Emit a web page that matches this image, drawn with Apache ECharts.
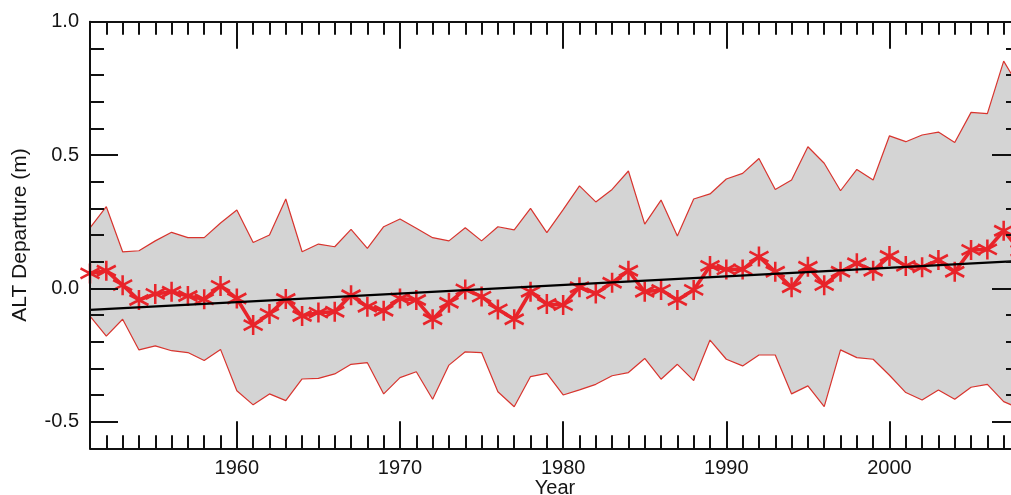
<!DOCTYPE html>
<html>
<head>
<meta charset="utf-8">
<script src="https://cdn.jsdelivr.net/npm/echarts@6/dist/echarts.min.js"></script>
<style>
html,body{margin:0;padding:0;background:#fff;}
#chart{width:1011px;height:495px;}
</style>
</head>
<body>
<div id="chart"></div>
<script>
const years = [];
for (let y = 1951; y <= 2008; y++) years.push(y);

const upperBand = [0.227,0.306,0.137,0.141,0.178,0.21,0.19,0.19,0.245,0.294,
  0.172,0.2,0.335,0.137,0.166,0.156,0.221,0.15,0.231,0.26,
  0.225,0.19,0.178,0.227,0.178,0.231,0.219,0.3,0.209,0.295,
  0.384,0.324,0.371,0.44,0.241,0.331,0.196,0.335,0.354,0.41,
  0.431,0.487,0.371,0.406,0.531,0.469,0.366,0.446,0.406,0.572,
  0.55,0.575,0.586,0.547,0.66,0.655,0.852,0.75];

const lowerBand = [-0.104,-0.179,-0.116,-0.231,-0.216,-0.234,-0.241,-0.271,-0.229,-0.384,
  -0.437,-0.396,-0.421,-0.34,-0.338,-0.321,-0.285,-0.279,-0.396,-0.335,
  -0.313,-0.416,-0.288,-0.238,-0.241,-0.388,-0.444,-0.331,-0.319,-0.4,
  -0.381,-0.36,-0.328,-0.316,-0.263,-0.341,-0.285,-0.346,-0.194,-0.266,
  -0.291,-0.25,-0.25,-0.396,-0.366,-0.444,-0.231,-0.26,-0.266,-0.326,
  -0.391,-0.419,-0.381,-0.416,-0.371,-0.36,-0.425,-0.451];

const meanALT = [0.056,0.066,0.012,-0.044,-0.021,-0.013,-0.029,-0.041,0.009,-0.038,
  -0.138,-0.096,-0.04,-0.104,-0.091,-0.088,-0.026,-0.069,-0.084,-0.038,
  -0.044,-0.116,-0.054,-0.004,-0.031,-0.079,-0.116,-0.013,-0.059,-0.063,
  0.004,-0.019,0.021,0.066,-0.013,-0.006,-0.044,-0.006,0.084,0.071,
  0.071,0.119,0.062,0.004,0.081,0.012,0.062,0.094,0.066,0.121,
  0.084,0.079,0.106,0.062,0.144,0.146,0.216,0.141];

const trendYears = [1951, 2008];
const trendValues = [-0.081, 0.103];

const xMajorTicks = [1960, 1970, 1980, 1990, 2000];
const yMajorTicks = [-0.5, 0, 0.5, 1.0];

const pairs = (vals) => years.map((y, i) => [y, vals[i]]);

const FONT = 'Liberation Sans, Arial, Helvetica, sans-serif';
const AX = '#111';
const TXT = '#151515';
const RED = '#e8242a';
const BAND_RED = '#d8342e';

const chart = echarts.init(document.getElementById('chart'), null, {renderer: 'canvas'});

const baseX = {type: 'value', min: 1951, max: 2008, splitLine: {show: false}, z: 5};
const baseY = {type: 'value', min: -0.6, max: 1.0, splitLine: {show: false}, z: 5};
const lineStyle = {color: AX, width: 2};

const option = {
  animation: false,
  backgroundColor: '#fff',
  grid: {left: 90, top: 21.7, width: 930, height: 426.6, containLabel: false, outerBoundsMode: 'none'},
  xAxis: [
    Object.assign({}, baseX, {
      position: 'bottom',
      axisLine: {show: true, onZero: false, lineStyle: lineStyle},
      axisTick: {show: true, inside: true, length: 27, customValues: xMajorTicks, lineStyle: lineStyle},
      axisLabel: {show: true, customValues: xMajorTicks, margin: 10, fontSize: 20, color: TXT, fontFamily: FONT,
        formatter: (v) => String(v)},
      name: 'Year', nameLocation: 'middle', nameGap: 30, nameMoveOverlap: false,
      nameTextStyle: {fontSize: 20, color: TXT, fontFamily: FONT, verticalAlign: 'top'}
    }),
    Object.assign({}, baseX, {
      position: 'bottom', interval: 1,
      axisLine: {show: false, onZero: false},
      axisTick: {show: true, inside: true, length: 13, lineStyle: lineStyle},
      axisLabel: {show: false}
    }),
    Object.assign({}, baseX, {
      position: 'top',
      axisLine: {show: true, onZero: false, lineStyle: lineStyle},
      axisTick: {show: true, inside: true, length: 27, customValues: xMajorTicks, lineStyle: lineStyle},
      axisLabel: {show: false}
    }),
    Object.assign({}, baseX, {
      position: 'top', interval: 1,
      axisLine: {show: false, onZero: false},
      axisTick: {show: true, inside: true, length: 13, lineStyle: lineStyle},
      axisLabel: {show: false}
    })
  ],
  yAxis: [
    Object.assign({}, baseY, {
      position: 'left',
      axisLine: {show: true, onZero: false, lineStyle: lineStyle},
      axisTick: {show: true, inside: true, length: 28, customValues: yMajorTicks, lineStyle: lineStyle},
      axisLabel: {show: true, customValues: yMajorTicks, margin: 11, fontSize: 20, color: TXT, fontFamily: FONT,
        formatter: (v) => Number(v).toFixed(1)},
      name: 'ALT Departure (m)', nameLocation: 'middle', nameGap: 59, nameRotate: 90, nameMoveOverlap: false,
      nameTextStyle: {fontSize: 21, color: TXT, fontFamily: FONT}
    }),
    Object.assign({}, baseY, {
      position: 'left', interval: 0.1,
      axisLine: {show: false, onZero: false},
      axisTick: {show: true, inside: true, length: 14, lineStyle: lineStyle},
      axisLabel: {show: false}
    }),
    Object.assign({}, baseY, {
      position: 'right',
      axisLine: {show: true, onZero: false, lineStyle: lineStyle},
      axisTick: {show: true, inside: true, length: 28, customValues: yMajorTicks, lineStyle: lineStyle},
      axisLabel: {show: false}
    }),
    Object.assign({}, baseY, {
      position: 'right', interval: 0.1,
      axisLine: {show: false, onZero: false},
      axisTick: {show: true, inside: true, length: 14, lineStyle: lineStyle},
      axisLabel: {show: false}
    })
  ],
  series: [
    {
      type: 'custom',
      name: 'band',
      xAxisIndex: 0, yAxisIndex: 0,
      silent: true,
      z: 1,
      data: [[1951, 0]],
      renderItem: function (params, api) {
        const pts = [];
        for (let i = 0; i < years.length; i++) pts.push(api.coord([years[i], upperBand[i]]));
        for (let i = years.length - 1; i >= 0; i--) pts.push(api.coord([years[i], lowerBand[i]]));
        return {type: 'polygon', shape: {points: pts}, style: {fill: '#d4d4d4', stroke: null}};
      }
    },
    {
      type: 'line', name: 'upper', xAxisIndex: 0, yAxisIndex: 0, z: 2,
      data: pairs(upperBand), symbol: 'none',
      lineStyle: {color: BAND_RED, width: 1.2}
    },
    {
      type: 'line', name: 'lower', xAxisIndex: 0, yAxisIndex: 0, z: 2,
      data: pairs(lowerBand), symbol: 'none',
      lineStyle: {color: BAND_RED, width: 1.2}
    },
    {
      type: 'line', name: 'mean', xAxisIndex: 0, yAxisIndex: 0, z: 3,
      data: pairs(meanALT),
      symbol: 'path://M0,0L0,20M-8.66,5L8.66,15M-8.66,15L8.66,5',
      symbolSize: [19, 20],
      showAllSymbol: true,
      itemStyle: {color: RED, borderColor: RED, borderWidth: 2.6},
      lineStyle: {color: RED, width: 3.6}
    },
    {
      type: 'line', name: 'trend', xAxisIndex: 0, yAxisIndex: 0, z: 4,
      data: trendYears.map((y, i) => [y, trendValues[i]]),
      symbol: 'none',
      lineStyle: {color: '#000', width: 2.4}
    }
  ]
};
chart.setOption(option);
</script>
</body>
</html>
